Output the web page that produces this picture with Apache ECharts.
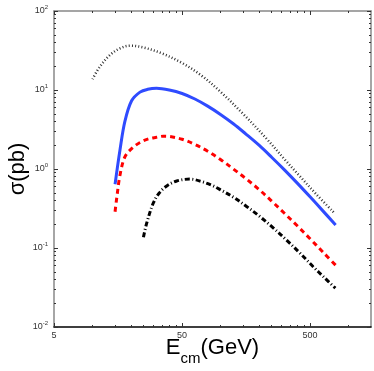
<!DOCTYPE html>
<html>
<head>
<meta charset="utf-8">
<script src="https://cdn.jsdelivr.net/npm/echarts@6.0.0/dist/echarts.min.js"></script>
<style>
html, body { margin: 0; padding: 0; background: #fff; }
#chart { width: 374px; height: 371px; }
</style>
</head>
<body>
<div id="chart"></div>
<script>
// E_cm (GeV) on x, sigma (pb) on y, both log
const xMajor = [5, 50, 500];
const xMinor = [10, 15, 20, 25, 30, 35, 40, 45, 100, 150, 200, 250, 300, 350, 400, 450, 1000];
const yMajor = [0.01, 0.1, 1, 10, 100];
const yMinor = [0.02, 0.03, 0.04, 0.05, 0.06, 0.07, 0.08, 0.09,
                0.2, 0.3, 0.4, 0.5, 0.6, 0.7, 0.8, 0.9,
                2, 3, 4, 5, 6, 7, 8, 9,
                20, 30, 40, 50, 60, 70, 80, 90];

// dotted curve
const dotE   = [10, 11.4, 13.7, 16.4, 19.6, 25, 35, 50, 70, 100, 150, 230, 320, 420, 560, 780];
const dotSig = [13.7, 19.7, 27.7, 33.7, 36.4, 34.5, 29, 22, 15.5, 9.5, 5.0, 2.4, 1.3, 0.8, 0.48, 0.275];
// blue solid
const blueE   = [15, 16.4, 17.9, 20.2, 23.5, 27, 31.6, 39.8, 50.1, 63.1, 79.4, 100, 126, 158, 200, 251, 316, 398, 501, 631, 794];
const blueSig = [0.64, 1.75, 4.0, 7.3, 9.4, 10.2, 10.5, 10.0, 9.04, 7.69, 6.25, 4.91, 3.74, 2.77, 2.0, 1.41, 0.975, 0.662, 0.444, 0.295, 0.196];
// red dashed
const redE   = [15, 15.45, 16.4, 17.9, 20.2, 23.5, 27, 31.6, 35.7, 39.8, 50.1, 63.1, 79.4, 100, 126, 158, 200, 251, 316, 398, 501, 631, 794];
const redSig = [0.288, 0.426, 0.84, 1.42, 1.81, 2.17, 2.39, 2.52, 2.6, 2.58, 2.38, 2.05, 1.68, 1.32, 1.0, 0.755, 0.55, 0.393, 0.275, 0.191, 0.131, 0.089, 0.0605];
// black dash-dot
const blkE   = [25, 26.5, 29.8, 33, 38, 45.5, 57.7, 70, 85, 100, 126, 160, 200, 258, 330, 418, 530, 650, 790];
const blkSig = [0.137, 0.206, 0.368, 0.49, 0.61, 0.705, 0.745, 0.70, 0.625, 0.545, 0.44, 0.335, 0.255, 0.18, 0.125, 0.086, 0.058, 0.042, 0.031];

const FONT = 'Liberation Sans';
const pairs = (xs, ys) => xs.map((x, i) => [x, ys[i]]);

function xAx(pos, ticks, len, label, line) {
  return {
    type: 'log', logBase: 10, min: 5, max: 1500, position: pos,
    axisLine: { show: !!line, lineStyle: { color: line || '#000', width: 1.5 } },
    axisTick: { show: true, inside: true, length: len, customValues: ticks,
                lineStyle: { color: '#333', width: 1 } },
    axisLabel: label ? { show: true, customValues: ticks, formatter: v => String(Math.round(v)),
                         fontSize: 9, color: '#333', margin: 4, fontFamily: FONT }
                     : { show: false },
    splitLine: { show: false }, minorTick: { show: false }
  };
}
function yAx(pos, ticks, len, label, line) {
  return {
    type: 'log', logBase: 10, min: 0.01, max: 100, position: pos,
    axisLine: { show: !!line, lineStyle: { color: line || '#000', width: 1.5 } },
    axisTick: { show: true, inside: true, length: len, customValues: ticks,
                lineStyle: { color: '#333', width: 1 } },
    axisLabel: label ? {
      show: true, customValues: ticks, margin: 6,
      formatter: v => '{b|10}{s|' + Math.round(Math.log10(v)) + '}',
      rich: {
        b: { fontSize: 9, color: '#333', fontFamily: FONT },
        s: { fontSize: 6, color: '#333', fontFamily: FONT, padding: [0, 0, 7, 0] }
      }
    } : { show: false },
    splitLine: { show: false }, minorTick: { show: false }
  };
}

const xBottom = xAx('bottom', xMajor, 4, true, '#000');
xBottom.name = '{a|E}{sub|cm}{a|(GeV)}';
xBottom.nameLocation = 'middle';
xBottom.nameGap = 10;
xBottom.nameMoveOverlap = false;
xBottom.nameTextStyle = {
  rich: {
    a: { fontSize: 22, lineHeight: 22, verticalAlign: 'top', color: '#000', fontFamily: FONT },
    sub: { fontSize: 15, lineHeight: 15, verticalAlign: 'top', padding: [14, 0, 0, 0], color: '#000', fontFamily: FONT }
  }
};
const yLeft = yAx('left', yMajor, 4, true, '#888');
yLeft.name = 'σ(pb)';
yLeft.nameLocation = 'middle';
yLeft.nameGap = 25;
yLeft.nameMoveOverlap = false;
yLeft.nameTextStyle = { fontSize: 22, color: '#000', fontFamily: FONT };

const chart = echarts.init(document.getElementById('chart'));
chart.setOption({
  animation: false,
  backgroundColor: '#fff',
  grid: { left: 54, top: 11, width: 317, height: 316, containLabel: false, outerBoundsMode: 'none' },
  xAxis: [xBottom, xAx('bottom', xMinor, 2, false, null),
          xAx('top', xMajor, 4, false, '#888'), xAx('top', xMinor, 2, false, null)],
  yAxis: [yLeft, yAx('left', yMinor, 2, false, null),
          yAx('right', yMajor, 4, false, '#888'), yAx('right', yMinor, 2, false, null)],
  series: [
    { type: 'line', data: pairs(dotE, dotSig), symbol: 'none', smooth: 0.35,
      lineStyle: { color: '#333', width: 2.5, type: [1, 2.2] } },
    { type: 'line', data: pairs(blueE, blueSig), symbol: 'none', smooth: 0.35,
      lineStyle: { color: '#2f4bff', width: 3 } },
    { type: 'line', data: pairs(redE, redSig), symbol: 'none', smooth: 0.35,
      lineStyle: { color: '#ff0000', width: 3, type: [5, 4] } },
    { type: 'line', data: pairs(blkE, blkSig), symbol: 'none', smooth: 0.35,
      lineStyle: { color: '#000', width: 3, type: [5, 2.5, 1, 2.5] } }
  ]
});
</script>
</body>
</html>
